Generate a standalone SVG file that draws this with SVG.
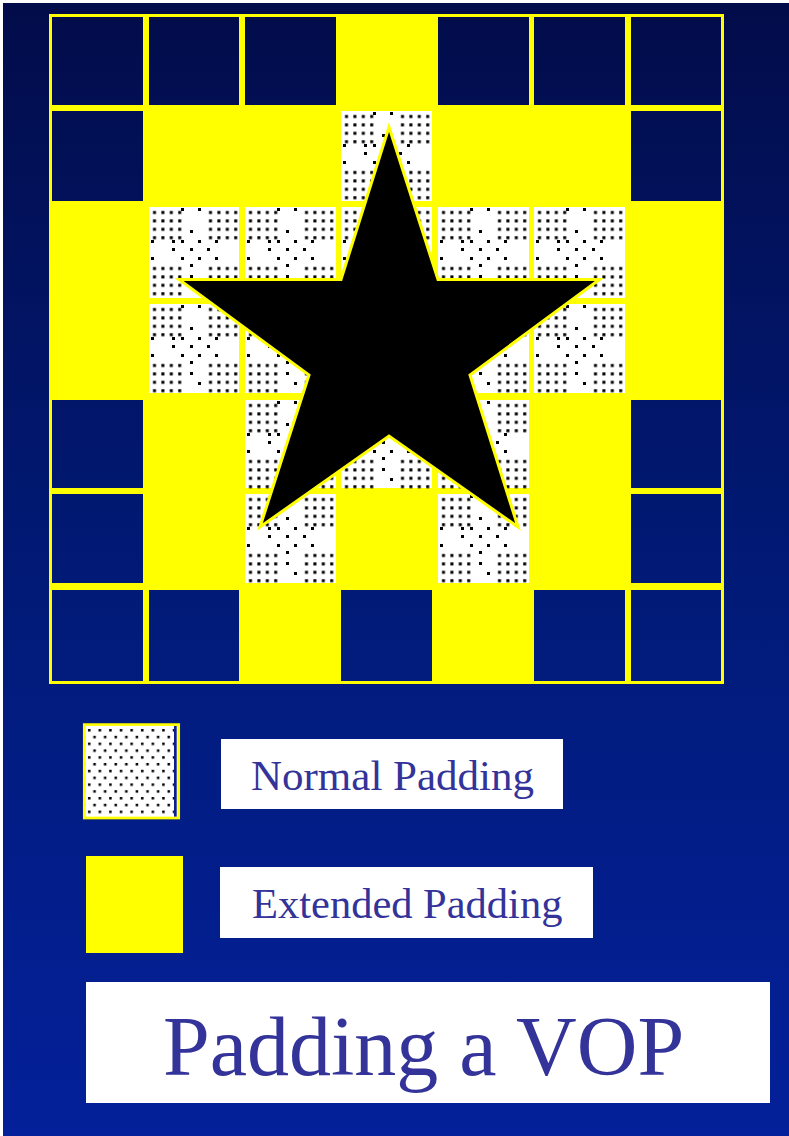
<svg xmlns="http://www.w3.org/2000/svg" xmlns:xlink="http://www.w3.org/1999/xlink" width="789" height="1136" viewBox="0 0 789 1136">
  <defs>
    <linearGradient id="bg" gradientUnits="userSpaceOnUse" x1="0" y1="0" x2="0" y2="1136">
      <stop offset="0" stop-color="#020c4a"/>
      <stop offset="0.55" stop-color="#011b7a"/>
      <stop offset="1" stop-color="#04209a"/>
    </linearGradient>
    <pattern id="pd" patternUnits="userSpaceOnUse" width="8.4" height="8.4">
      <rect x="4" y="4" width="3" height="3" fill="#000"/>
    </pattern>
    <pattern id="ld" patternUnits="userSpaceOnUse" x="86" y="729" width="10.6" height="13.6">
      <rect x="2" y="0" width="2.5" height="2.5" fill="#000"/>
      <rect x="7.3" y="6.8" width="2.5" height="2.5" fill="#000"/>
    </pattern>
    <g id="blk"><rect width="33" height="33" fill="url(#pd)"/></g>
    <g id="dots">
      <use xlink:href="#blk"/>
      <use xlink:href="#blk" x="56"/>
      <use xlink:href="#blk" y="56"/>
      <use xlink:href="#blk" x="56" y="56"/>
      <path fill="#000" d="M32 1h3v3h-3z M49 1h3v3h-3z M41 23h3v3h-3z M2 33h3v3h-3z M23 33h3v3h-3z M32 33h3v3h-3z M49 33h3v3h-3z M66 33h3v3h-3z M23 41h3v3h-3z M41 41h3v3h-3z M58 41h3v3h-3z M2 50h3v3h-3z M32 50h3v3h-3z M49 50h3v3h-3z M66 50h3v3h-3z M41 57h3v3h-3z M41 68h3v3h-3z M49 78h3v3h-3z"/>
    </g>
    <style>
      .navy { fill: url(#bg); }
      .dot { fill: #ffffff; }
      .yel { fill: #ffff00; }
      .lbl { fill: #ffffff; }
      .txt { font-family: "Liberation Serif", "Times New Roman", serif; fill: #333399; }
    </style>
  </defs>

  <rect x="0" y="0" width="789" height="1136" fill="#ffffff"/>
  <rect x="3" y="3" width="786" height="1133" fill="url(#bg)"/>

  <g id="grid">
    <rect id="grid-frame" class="yel" x="49" y="14" width="675" height="670"/>
  </g>

  <g id="navy-cells">
    <rect class="navy" x="52" y="17" width="91" height="88"/>
    <rect class="navy" x="149" y="17" width="90" height="88"/>
    <rect class="navy" x="245" y="17" width="91" height="88"/>
    <rect class="navy" x="438" y="17" width="91" height="88"/>
    <rect class="navy" x="534" y="17" width="91" height="88"/>
    <rect class="navy" x="631" y="17" width="90" height="88"/>
    <rect class="navy" x="52" y="111" width="91" height="90"/>
    <rect class="navy" x="631" y="111" width="90" height="90"/>
    <rect class="navy" x="52" y="400" width="91" height="88"/>
    <rect class="navy" x="631" y="400" width="90" height="88"/>
    <rect class="navy" x="52" y="494" width="91" height="89"/>
    <rect class="navy" x="631" y="494" width="90" height="89"/>
    <rect class="navy" x="52" y="590" width="91" height="91"/>
    <rect class="navy" x="149" y="590" width="90" height="91"/>
    <rect class="navy" x="341" y="590" width="91" height="91"/>
    <rect class="navy" x="534" y="590" width="91" height="91"/>
    <rect class="navy" x="631" y="590" width="90" height="91"/>
  </g>

  <g id="normal-padding-cells">
    <rect class="dot" x="341" y="111" width="91" height="90"/>
    <use xlink:href="#dots" x="341" y="111"/>

    <rect class="dot" x="149" y="207" width="90" height="91"/>
    <use xlink:href="#dots" x="149" y="207"/>
    <rect class="dot" x="245" y="207" width="91" height="91"/>
    <use xlink:href="#dots" x="245" y="207"/>
    <rect class="dot" x="341" y="207" width="91" height="91"/>
    <use xlink:href="#dots" x="341" y="207"/>
    <rect class="dot" x="438" y="207" width="91" height="91"/>
    <use xlink:href="#dots" x="438" y="207"/>
    <rect class="dot" x="534" y="207" width="91" height="91"/>
    <use xlink:href="#dots" x="534" y="207"/>

    <rect class="dot" x="149" y="304" width="90" height="89"/>
    <use xlink:href="#dots" x="149" y="304"/>
    <rect class="dot" x="245" y="304" width="91" height="89"/>
    <use xlink:href="#dots" x="245" y="304"/>
    <rect class="dot" x="438" y="304" width="91" height="89"/>
    <use xlink:href="#dots" x="438" y="304"/>
    <rect class="dot" x="534" y="304" width="91" height="89"/>
    <use xlink:href="#dots" x="534" y="304"/>

    <rect class="dot" x="245" y="400" width="91" height="88"/>
    <use xlink:href="#dots" x="245" y="400"/>
    <rect class="dot" x="341" y="400" width="91" height="88"/>
    <use xlink:href="#dots" x="341" y="400"/>
    <rect class="dot" x="438" y="400" width="91" height="88"/>
    <use xlink:href="#dots" x="438" y="400"/>

    <rect class="dot" x="245" y="494" width="91" height="89"/>
    <use xlink:href="#dots" x="245" y="494"/>
    <rect class="dot" x="438" y="494" width="91" height="89"/>
    <use xlink:href="#dots" x="438" y="494"/>
  </g>

  <g id="star">
    <polygon points="389,127 438,279.5 599.5,279.5 470,375 518,527 389,436 260,527 309,375 179,279.5 341,279.5" fill="#000000" stroke="#ffff00" stroke-width="3" stroke-linejoin="miter"/>
  </g>

  <g id="legend-normal">
    <rect x="84.3" y="724.6" width="94.4" height="93.4" fill="#ffffff" stroke="#ffff00" stroke-width="2.7"/>
    <rect x="85.7" y="726" width="88.3" height="90.6" fill="url(#ld)"/>
    <rect x="174" y="726" width="2.7" height="90.6" fill="#0a1f8a"/>
    <rect class="lbl" x="221" y="739" width="342" height="70"/>
    <text class="txt" x="251" y="790" font-size="43">Normal Padding</text>
  </g>

  <g id="legend-extended">
    <rect class="yel" x="86" y="856" width="97" height="97"/>
    <rect class="lbl" x="220" y="867" width="373" height="71"/>
    <text class="txt" x="252" y="918" font-size="42.5">Extended Padding</text>
  </g>

  <g id="title">
    <rect class="lbl" x="86" y="982" width="684" height="121"/>
    <text class="txt" x="163" y="1075" font-size="84">Padding a VOP</text>
  </g>
</svg>
